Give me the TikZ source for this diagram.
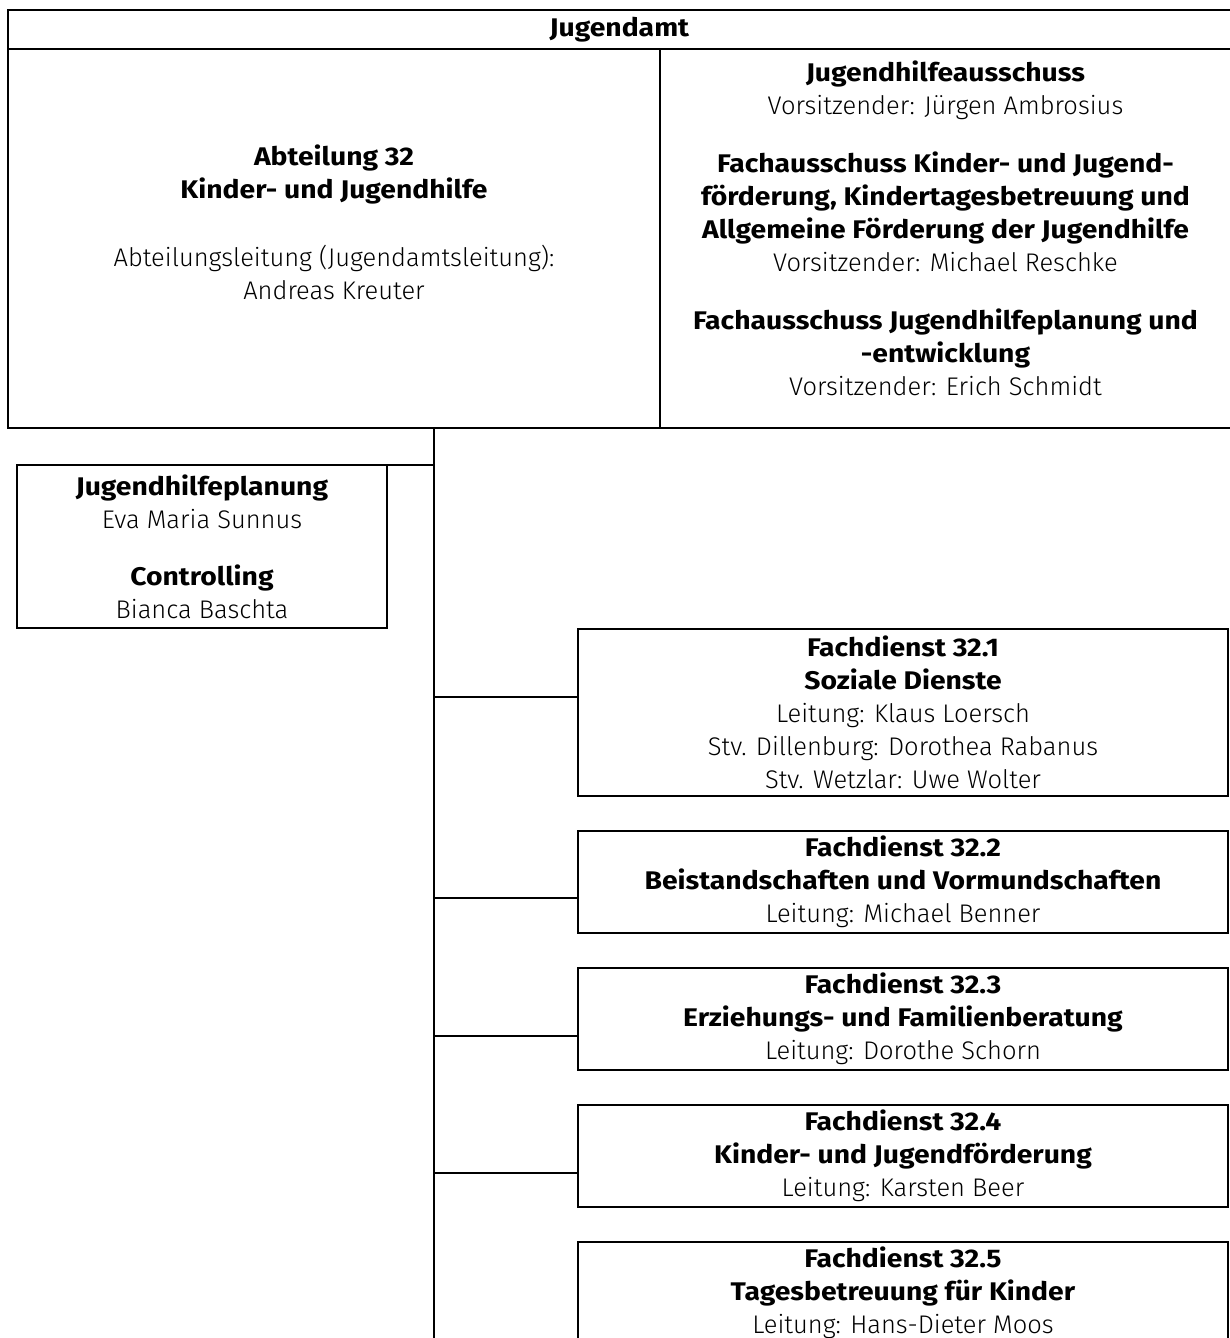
\documentclass[tikz,border=0pt]{standalone}
\usepackage{fontspec}
\IfFontExistsTF{Fira Sans Light}
  {\setmainfont{Fira Sans Light}[BoldFont={Fira Sans Bold}, BoldFeatures={FakeStretch=1.11}]}
  {\setmainfont{Fira Sans}}

\begin{document}
\begin{tikzpicture}[x=1pt, y=-1pt,
    cell/.style={draw, line width=2pt, inner sep=0pt, outer sep=0pt,
      anchor=north west, align=center},
    lbl/.style={inner sep=0pt, align=center},
    link/.style={line width=1.7pt}]
    \fontsize{25.5}{33}\selectfont
    \clip (0,0) rectangle (1230,1338);
    \def\tx{434}; \def\fx{578}; \def\fw{650};

    % Jugendamt
    \node[cell, minimum width=1223, minimum height=39] (jamt) at (8,10) {\textbf{Jugendamt}};
    \node[cell, minimum width=652, minimum height=379] (abt) at (8,49) {};
    \node[cell, minimum width=571, minimum height=379] (jha) at (660,49) {};
    \node[lbl, yshift=16pt] (abttxt) at (abt.center) {\textbf{Abteilung 32}\\
      \textbf{Kinder- und Jugendhilfe}\\[35pt]
      Abteilungsleitung (Jugendamtsleitung):\\ Andreas Kreuter};
    \node[lbl, yshift=10pt] (jhatxt) at (jha.center) {\textbf{Jugendhilfeausschuss}\\
      Vorsitzender: Jürgen Ambrosius\\[25pt]
      \textbf{Fachausschuss Kinder- und Jugend-}\\
      \textbf{förderung, Kindertagesbetreuung und}\\
      \textbf{Allgemeine Förderung der Jugendhilfe}\\
      Vorsitzender: Michael Reschke\\[25pt]
      \textbf{Fachausschuss Jugendhilfeplanung und}\\
      \textbf{-entwicklung}\\
      Vorsitzender: Erich Schmidt};

    % Stabsstelle
    \node[cell, minimum width=370, minimum height=163] (jhp) at (17,465) {\textbf{Jugendhilfeplanung}\\
      Eva Maria Sunnus\\[24pt] \textbf{Controlling}\\ Bianca Baschta};

    % Fachdienste
    \node[cell, minimum width=\fw, minimum height=167] (fd1) at (\fx,629) {\textbf{Fachdienst 32.1}\\
      \textbf{Soziale Dienste}\\ Leitung: Klaus Loersch\\
      Stv. Dillenburg: Dorothea Rabanus\\ Stv. Wetzlar: Uwe Wolter};
    \node[cell, minimum width=\fw, minimum height=102] (fd2) at (\fx,831) {\textbf{Fachdienst 32.2}\\
      \textbf{Beistandschaften und Vormundschaften}\\ Leitung: Michael Benner};
    \node[cell, minimum width=\fw, minimum height=102] (fd3) at (\fx,968) {\textbf{Fachdienst 32.3}\\
      \textbf{Erziehungs- und Familienberatung}\\ Leitung: Dorothe Schorn};
    \node[cell, minimum width=\fw, minimum height=102] (fd4) at (\fx,1105) {\textbf{Fachdienst 32.4}\\
      \textbf{Kinder- und Jugendförderung}\\ Leitung: Karsten Beer};
    \node[cell, minimum width=\fw, minimum height=102] (fd5) at (\fx,1242) {\textbf{Fachdienst 32.5}\\
      \textbf{Tagesbetreuung für Kinder}\\ Leitung: Hans-Dieter Moos};

    % Linien
    \coordinate (top) at (\tx,428); \coordinate (bot) at (\tx,1345);
    \coordinate (t1) at (\tx,697); \coordinate (t2) at (\tx,898);
    \coordinate (t3) at (\tx,1036); \coordinate (t4) at (\tx,1173);
    \draw[link] (top) -- (bot);
    \draw[link] (jhp.north east) -- (jhp.north east -| top);
    \draw[link] (t1) -- (t1 -| fd1.west); \draw[link] (t2) -- (t2 -| fd2.west);
    \draw[link] (t3) -- (t3 -| fd3.west); \draw[link] (t4) -- (t4 -| fd4.west);
  \end{tikzpicture}
\end{document}
